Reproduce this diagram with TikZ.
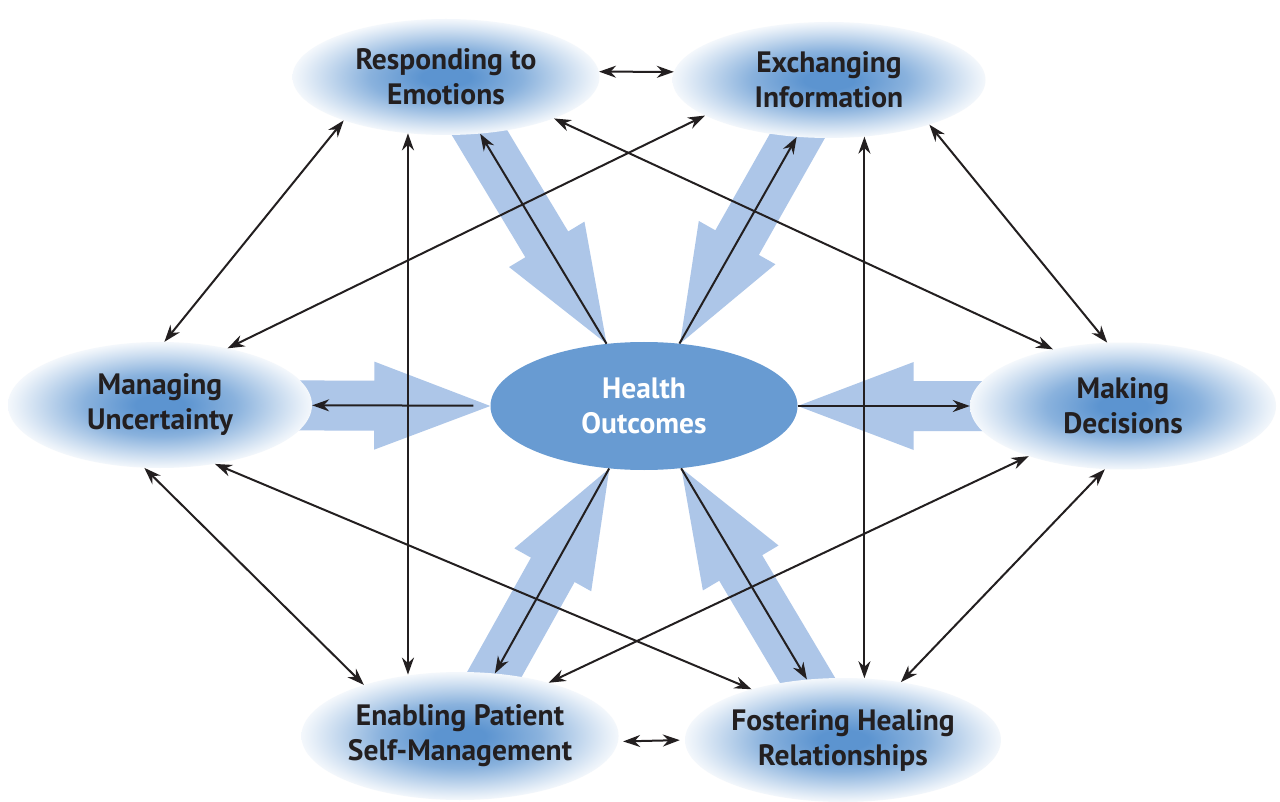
\documentclass[tikz,border=0pt]{standalone}
\usepackage{fontspec}
\setmainfont{PT Sans}
\usetikzlibrary{calc,shapes.geometric,arrows.meta}
\definecolor{glowc}{RGB}{92,148,208}
\definecolor{hoc}{RGB}{104,155,210}
\definecolor{fatc}{RGB}{173,198,232}
\definecolor{ink}{RGB}{35,31,32}
\pgfdeclareradialshading{glow}{\pgfpoint{0bp}{0bp}}{color(0bp)=(glowc); color(4bp)=(glowc); color(12.5bp)=(glowc!72!white); color(20bp)=(glowc!32!white); color(23.5bp)=(glowc!14!white); color(25bp)=(glowc!7!white); color(50bp)=(white)}
\pgfdeclarelayer{canvas}
\pgfdeclarelayer{back}
\pgfsetlayers{canvas,back,main}
\newcommand{\fatarrow}[2]{%
  \fill[fatc] ($(#1)!25pt!90:(#2)$) -- ($($(#2)!116pt!(#1)$)!25pt!-90:(#1)$)
    -- ($($(#2)!116pt!(#1)$)!44pt!-90:(#1)$) -- (#2)
    -- ($($(#2)!116pt!(#1)$)!44pt!90:(#1)$) -- ($($(#2)!116pt!(#1)$)!25pt!90:(#1)$)
    -- ($(#1)!25pt!-90:(#2)$) -- cycle;}
\begin{document}
\begin{tikzpicture}[x=1pt,y=-1pt,
  outer/.style={ellipse, shade, shading=glow, inner sep=0pt, align=center,
    text=ink, font=\fontsize{29.5}{35}\selectfont\bfseries},
  hub/.style={ellipse, fill=hoc, inner sep=0pt, align=center,
    text=white, font=\fontsize{29.5}{35}\selectfont\bfseries,
    minimum width=307pt, minimum height=128pt},
  tipk/.tip={Stealth[length=17pt,width=12pt]},
  onearrow/.style={draw=ink, line width=2pt, -tipk},
  twoarrow/.style={draw=ink, line width=2pt, tipk-tipk}
]
\begin{pgfonlayer}{canvas}
\useasboundingbox[fill=white] (0,0) rectangle (1280,802);
\end{pgfonlayer}

\node[outer, minimum width=307pt, minimum height=116pt] (RE) at (446,77) {Responding to\\Emotions};
\node[outer, minimum width=313pt, minimum height=116pt] (EI) at (829,80) {Exchanging\\Information};
\node[outer, minimum width=304pt, minimum height=126pt] (MU) at (160,405) {Managing\\Uncertainty};
\node[outer, minimum width=306pt, minimum height=127pt] (MD) at (1123,406) {Making\\Decisions};
\node[outer, minimum width=304pt, minimum height=128pt] (EP) at (460,736) {Enabling Patient\\Self-Management};
\node[outer, minimum width=306pt, minimum height=124pt] (FH) at (843,740) {Fostering Healing\\Relationships};
\node[hub] (HO) at (644,406) {Health\\Outcomes};

\begin{pgfonlayer}{back}
\fatarrow{RE.center}{HO.121}
\fatarrow{EI.center}{HO.60}
\fatarrow{MU.center}{HO.180}
\fatarrow{MD.center}{HO.0}
\fatarrow{EP.center}{HO.241}
\fatarrow{FH.center}{HO.301}
\end{pgfonlayer}

% outward arrows from the hub
\draw[onearrow] (HO) -- (RE);
\draw[onearrow] (HO) -- (EI);
\draw[onearrow, shorten <=17pt] (HO) -- (MU);
\draw[onearrow] (HO) -- (MD);
\draw[onearrow] (HO) -- (EP);
\draw[onearrow] (HO) -- (FH);

% links between the outer elements
\draw[twoarrow] (RE.2) -- (EI.177);
\draw[twoarrow] (RE.203) -- (MU.86);
\draw[twoarrow] (RE.236) -- (RE.236 |- EP.127);
\draw[twoarrow] (RE.339) -- (MD.141);
\draw[twoarrow] (EI.196) -- (MU.40);
\draw[twoarrow] (EI.302) -- (EI.302 |- FH.74);
\draw[twoarrow] (EI.336) -- (MD.104);
\draw[twoarrow] (MU.256) -- (EP.152);
\draw[twoarrow] (MU.313) -- (FH.151);
\draw[twoarrow] (MD.208) -- (EP.31);
\draw[twoarrow] (MD.254) -- (FH.45);
\draw[twoarrow, shorten <=5pt, shorten >=5pt] (EP.358) -- (FH.180);
\end{tikzpicture}
\end{document}
